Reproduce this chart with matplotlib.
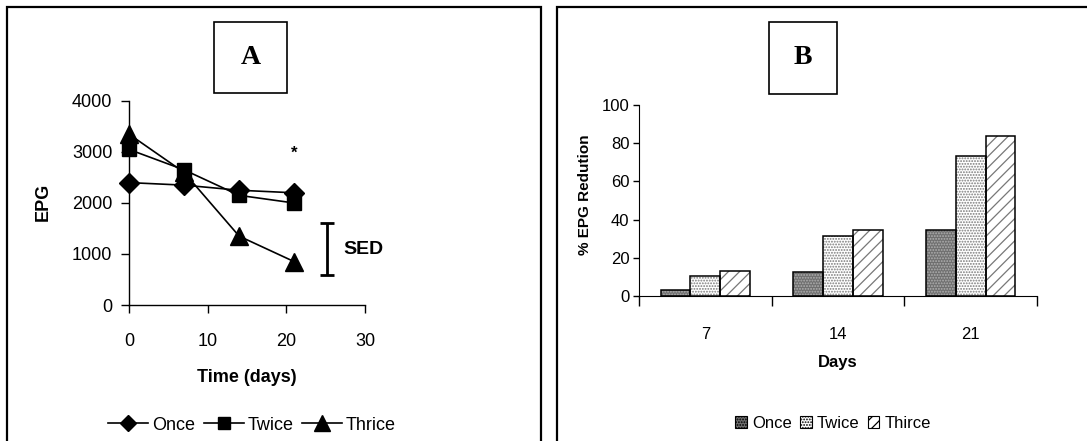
import matplotlib
matplotlib.use("Agg")
import matplotlib.pyplot as plt
from matplotlib.patches import Rectangle
from matplotlib.lines import Line2D
import numpy as np

# ---- data ----
days_a = [0, 7, 14, 21]
once_epg = [2400, 2350, 2250, 2200]
twice_epg = [3050, 2650, 2150, 2000]
thrice_epg = [3350, 2600, 1350, 850]
a_xticks = [0, 10, 20, 30]
a_yticks = [0, 1000, 2000, 3000, 4000]

days_b = ["7", "14", "21"]
once_red = [3, 12.5, 34.5]
twice_red = [10.5, 31.5, 73.5]
thrice_red = [13.2, 34.5, 84]
b_yticks = [0, 20, 40, 60, 80, 100]

W, H = 1087, 441
fig = plt.figure(figsize=(W / 100, H / 100), dpi=100)
plt.rcParams['font.family'] = ['Liberation Sans', 'DejaVu Sans']
NARROW = ['Liberation Sans', 'DejaVu Sans']
plt.rcParams['hatch.linewidth'] = 0.9

def fx(px):
    return px / W

def fy(py):
    return 1 - py / H

def axes_px(l, t, r, b):
    return fig.add_axes([fx(l), fy(b), fx(r - l), (b - t) / H])

# ---- panel frames ----
for (l, t, r, b) in [(7, 7, 541, 450), (557, 7, 1095, 450)]:
    fig.patches.append(Rectangle((fx(l), fy(b)), fx(r - l), (b - t) / H,
                                 transform=fig.transFigure, fill=False,
                                 edgecolor='black', linewidth=1.6, clip_on=False))
# panel label boxes
for (l, t, r, b, lab) in [(214, 22, 287, 93, 'A'), (769, 22, 837, 94, 'B')]:
    fig.patches.append(Rectangle((fx(l), fy(b)), fx(r - l), (b - t) / H,
                                 transform=fig.transFigure, fill=False,
                                 edgecolor='black', linewidth=1.2))
    fig.text(fx((l + r) / 2), fy((t + b) / 2), lab, ha='center', va='center',
             family=['Liberation Serif', 'DejaVu Serif'], fontweight='bold', fontsize=20)

# ---- Panel A ----
mk = [('D', 10), ('s', 10.5), ('^', 13)]
axA = axes_px(129, 101, 365, 305)
for vals, (m, ms), lab in zip([once_epg, twice_epg, thrice_epg], mk,
                              ['Once', 'Twice', 'Thrice']):
    axA.plot(days_a, vals, color='black', lw=1.2, marker=m, ms=ms, label=lab,
             clip_on=False)
axA.set_xlim(0, 30)
axA.set_ylim(0, 4000)
axA.set_xticks(a_xticks)
axA.set_yticks(a_yticks)
for s in ['top', 'right']:
    axA.spines[s].set_visible(False)
for s in ['left', 'bottom']:
    axA.spines[s].set_linewidth(1.0)
axA.tick_params(axis='x', direction='out', length=6, width=1, pad=14, labelsize=13)
axA.tick_params(axis='y', direction='out', length=6, width=1, pad=6, labelsize=13)
axA.patch.set_alpha(0)
# significance mark and SED bar
axA.text(21, 2980, '*', ha='center', va='center', fontsize=12, fontweight='bold')
axA.errorbar([25.2], [1090], yerr=[[510], [510]], color='black', lw=2,
             capsize=5, capthick=2, clip_on=False)
axA.text(27.2, 1090, 'SED', ha='left', va='center', fontsize=14, fontweight='bold')

fig.text(fx(43), fy(202), 'EPG', rotation=90, ha='center', va='center',
         fontsize=13, fontweight='bold')
fig.text(fx(247), fy(377), 'Time (days)', ha='center', va='center',
         fontsize=13, fontweight='bold')
handlesA = [Line2D([], [], color='black', lw=1.2, marker=m, ms=ms * 0.85)
            for m, ms in mk]
fig.legend(handlesA, ['Once', 'Twice', 'Thrice'], loc='center',
           bbox_to_anchor=(fx(252), fy(425)), ncol=3, frameon=False,
           fontsize=13, handlelength=2.2, handletextpad=0.2, columnspacing=0.5,
           borderaxespad=0)

# ---- Panel B ----
axB = axes_px(639, 105, 1037, 296)
x = np.arange(len(days_b))
bw = 0.225
styles = [
    dict(face='#6f6f6f', hatch='......', hcol='#b0b0b0'),
    dict(face='white', hatch='......', hcol='#7a7a7a'),
    dict(face='white', hatch='///', hcol='#777777'),
]
series = [once_red, twice_red, thrice_red]
for i, (vals, st) in enumerate(zip(series, styles)):
    pos = x + (i - 1) * bw
    axB.bar(pos, vals, width=bw, color=st['face'], edgecolor=st['hcol'],
            hatch=st['hatch'], linewidth=0, zorder=2)
    axB.bar(pos, vals, width=bw, fill=False, edgecolor='black', linewidth=1.1, zorder=3)
axB.set_xlim(-0.5, 2.5)
axB.set_ylim(0, 100)
axB.set_yticks(b_yticks)
axB.set_xticks(x)
axB.set_xticklabels(days_b, family=NARROW, fontsize=12)
axB.set_xticks([-0.5, 0.5, 1.5, 2.5], minor=True)
axB.tick_params(axis='x', which='major', length=0, pad=22)
axB.tick_params(axis='x', which='minor', length=7, width=1, direction='out')
axB.tick_params(axis='y', length=4, width=1, direction='out', pad=3)
for lab in axB.get_yticklabels():
    lab.set_family(NARROW)
    lab.set_fontsize(12)
for s in ['top', 'right']:
    axB.spines[s].set_visible(False)
axB.patch.set_alpha(0)

fig.text(fx(585), fy(195), '% EPG Redution', rotation=90, ha='center', va='center',
         fontsize=11, fontweight='bold')
fig.text(fx(838), fy(363), 'Days', ha='center', va='center',
         family=NARROW, fontsize=12, fontweight='bold')
handlesB = [Rectangle((0, 0), 1, 1, facecolor=st['face'], edgecolor='black',
                      hatch=st['hatch'], linewidth=0.8) for st in styles]
fig.legend(handlesB, ['Once', 'Twice', 'Thirce'], loc='center',
           bbox_to_anchor=(fx(833), fy(423)), ncol=3, frameon=False,
           prop={'family': NARROW, 'size': 12}, handlelength=0.7, handleheight=0.7,
           handletextpad=0.3, columnspacing=0.5, borderaxespad=0)

fig.savefig('out.png', dpi=100)
